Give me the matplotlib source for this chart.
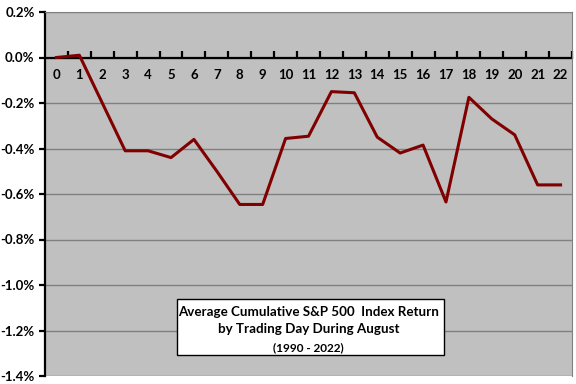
import matplotlib.pyplot as plt
from matplotlib.ticker import FuncFormatter

days = list(range(23))
avg_cum_return = [0.00, 0.01, -0.20, -0.41, -0.41, -0.44, -0.36, -0.50, -0.646, -0.646,
                  -0.356, -0.346, -0.15, -0.155, -0.35, -0.42, -0.385, -0.635, -0.175,
                  -0.27, -0.34, -0.56, -0.56]
y_ticks = [0.2, 0.0, -0.2, -0.4, -0.6, -0.8, -1.0, -1.2, -1.4]
title_line1 = "Average Cumulative S&P 500  Index Return"
title_line2 = "by Trading Day During August"
subtitle = "(1990 - 2022)"

plt.rcParams["font.family"] = ["Lato", "DejaVu Sans"]

fig = plt.figure(figsize=(5.76, 3.84), dpi=100)
ax = fig.add_axes([45 / 576, 1 - 376 / 384, (572 - 45) / 576, (376 - 12) / 384])
ax.set_facecolor("#c0c0c0")

ax.plot(days, avg_cum_return, color="#800000", linewidth=2.2, zorder=3)

ax.set_xlim(-0.5, 22.5)
ax.set_ylim(-1.4, 0.2)
ax.set_yticks(y_ticks)
ax.yaxis.set_major_formatter(FuncFormatter(lambda v, p: f"{v:.1f}%"))
ax.grid(axis="y", color="#808080", linewidth=1.0, zorder=1)

# x axis drawn at zero, ticks between categories
ax.spines["bottom"].set_position(("data", 0))
ax.spines["bottom"].set_linewidth(1.6)
ax.spines["bottom"].set_zorder(2)
ax.spines["left"].set_linewidth(1.6)
for s in ["top", "right"]:
    ax.spines[s].set_color("#808080")
ax.set_xticks([d + 0.5 for d in days], minor=True)
ax.set_xticks(days)
ax.set_xticklabels([str(d) for d in days])
ax.tick_params(axis="x", which="major", length=0, pad=8, labelsize=9.5)
ax.tick_params(axis="x", which="minor", direction="in", length=5, width=1.6)
ax.tick_params(axis="y", direction="out", length=4, width=1.6, labelsize=9.5)
for lab in ax.get_xticklabels() + ax.get_yticklabels():
    lab.set_fontweight("bold")

box = plt.Rectangle((177, 384 - 355), 444 - 177, 355 - 299, transform=None,
                    facecolor="white", edgecolor="black", linewidth=1.0, zorder=4)
ax.add_patch(box)
ax.text(11, -1.119, title_line1, ha="center", va="center",
        fontsize=9.6, fontweight="bold", zorder=5)
ax.text(11, -1.193, title_line2, ha="center", va="center",
        fontsize=9.6, fontweight="bold", zorder=5)
ax.text(11, -1.275, subtitle, ha="center", va="center",
        fontsize=8.5, fontweight="bold", zorder=5)

fig.savefig("out.png", dpi=100)
